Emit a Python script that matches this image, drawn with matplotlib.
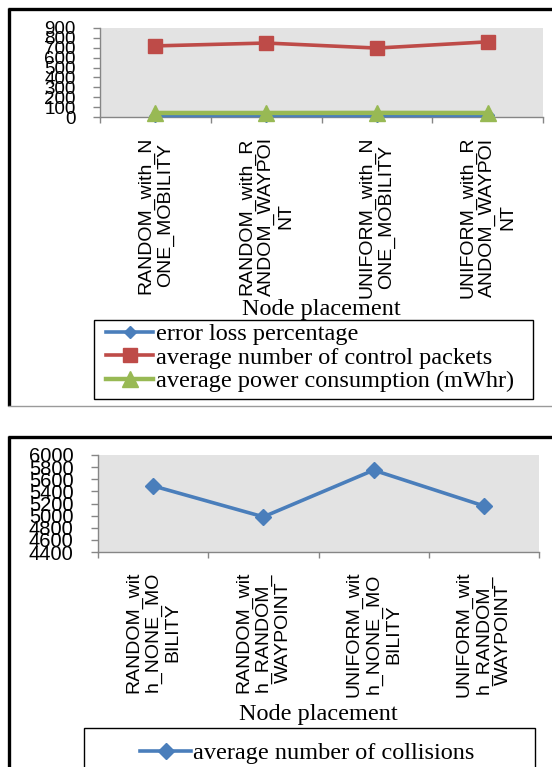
import matplotlib
matplotlib.use("Agg")
import matplotlib.pyplot as plt
from matplotlib.lines import Line2D
from matplotlib.patches import Rectangle

# Node placement scenarios (wrapped the way the category axis breaks them)
placements_top = [
    "RANDOM_with_N\nONE_MOBILITY",
    "RANDOM_with_R\nANDOM_WAYPOI\nNT",
    "UNIFORM_with_N\nONE_MOBILITY",
    "UNIFORM_with_R\nANDOM_WAYPOI\nNT",
]
placements_bottom = [
    "RANDOM_wit\nh_NONE_MO\nBILITY",
    "RANDOM_wit\nh_RANDOM_\nWAYPOINT",
    "UNIFORM_wit\nh_NONE_MO\nBILITY",
    "UNIFORM_wit\nh_RANDOM_\nWAYPOINT",
]

# Series values
error_loss = [14, 15, 14, 16]
control_packets = [719, 748, 697, 760]
power_consumption = [41, 41, 42, 41]
collisions = [5490, 4980, 5750, 5160]

yticks_top = list(range(0, 901, 100))
yticks_bottom = list(range(4400, 6001, 200))

BLUE = "#4A7EBB"
RED = "#BE4B48"
GREEN = "#98B954"
AXIS_GRAY = "#868686"
PLOT_BG = "#E3E3E3"
SERIF = {"family": "Liberation Serif", "size": 17.5}

W, H = 552, 767
fig = plt.figure(figsize=(W / 100, H / 100), dpi=100)


def fx(px):
    return px / W


def fy(py):
    return 1 - py / H


def add_axes_px(left, top, right, bottom):
    return fig.add_axes([fx(left), fy(bottom), (right - left) / W, (bottom - top) / H])


def style_axes(ax, labels, yticks, label_y, ytick_size):
    ax.set_facecolor(PLOT_BG)
    for side in ("top", "right"):
        ax.spines[side].set_visible(False)
    for side in ("left", "bottom"):
        ax.spines[side].set_color(AXIS_GRAY)
        ax.spines[side].set_linewidth(1.0)
    n = len(labels)
    ax.set_xlim(0, n)
    ax.set_xticks([i + 0.5 for i in range(n)])
    ax.set_xticklabels(labels, rotation=90, ha="center", va="top",
                       multialignment="center",
                       fontfamily="Liberation Sans", fontsize=14)
    ax.set_xticks(range(n + 1), minor=True)
    ax.tick_params(axis="x", which="major", length=0, pad=14)
    ax.tick_params(axis="x", which="minor", length=4, color=AXIS_GRAY, width=1.0,
                   direction="out")
    ax.set_ylim(yticks[0], yticks[-1])
    ax.set_yticks(yticks)
    ax.set_yticklabels([str(v) for v in yticks], fontfamily="Liberation Sans",
                       fontsize=ytick_size)
    ax.tick_params(axis="y", length=5, color=AXIS_GRAY, width=1.0, pad=12.5)
    ax.set_xlabel("Node placement", fontdict=SERIF, va="center")
    ax.xaxis.set_label_coords(0.5, label_y)


def box_px(left, top, right, bottom):
    fig.add_artist(Rectangle((fx(left), fy(bottom)), (right - left) / W,
                             (bottom - top) / H, transform=fig.transFigure,
                             fill=False, edgecolor="black", lw=1.0))


# Panel frames
frame_kw = dict(transform=fig.transFigure, solid_capstyle="butt")
fig.add_artist(Line2D([fx(8), 1], [fy(9), fy(9)], color="black", lw=2.4, **frame_kw))
fig.add_artist(Line2D([fx(8.5), fx(8.5)], [fy(8), fy(406)], color="black", lw=2.4, **frame_kw))
fig.add_artist(Line2D([fx(8), 1], [fy(406), fy(406)], color="#9A9A9A", lw=1.0, **frame_kw))
fig.add_artist(Line2D([fx(8), 1], [fy(437), fy(437)], color="black", lw=2.4, **frame_kw))
fig.add_artist(Line2D([fx(8.5), fx(8.5)], [fy(436), 0], color="black", lw=2.4, **frame_kw))

# Upper chart: error loss, control packets, power consumption
ax1 = add_axes_px(100, 28, 543, 117)
x_top = [i + 0.5 for i in range(len(placements_top))]
h_err, = ax1.plot(x_top, error_loss, color=BLUE, lw=2.6, marker="D", ms=6,
                  label="error loss percentage", zorder=3, clip_on=False)
h_ctl, = ax1.plot(x_top, control_packets, color=RED, lw=2.6, marker="s", ms=9.5,
                  label="average number of control packets", zorder=5, clip_on=False)
h_pwr, = ax1.plot(x_top, power_consumption, color=GREEN, lw=3.2, marker="^", ms=12,
                  label="average power consumption (mWhr)", zorder=4, clip_on=False)
style_axes(ax1, placements_top, yticks_top, (117 - 309) / 89, 13.5)

box_px(94, 320, 533, 399)
fig.legend(handles=[h_err, h_ctl, h_pwr], loc="upper left",
           bbox_to_anchor=(fx(106), fy(323)), bbox_transform=fig.transFigure,
           frameon=False, prop=SERIF, handlelength=1.95, labelspacing=0.07,
           borderpad=0, handletextpad=0.1, borderaxespad=0)

# Lower chart: collisions
ax2 = add_axes_px(98, 455, 539, 552)
x_bot = [i + 0.5 for i in range(len(placements_bottom))]
h_col, = ax2.plot(x_bot, collisions, color=BLUE, lw=2.6, marker="D", ms=8.5,
                  label="average number of collisions", zorder=3, clip_on=False)
style_axes(ax2, placements_bottom, yticks_bottom, (552 - 714) / 97, 14.5)

box_px(84, 728, 535, 790)
fig.legend(handles=[h_col], loc="center left", bbox_to_anchor=(fx(140), fy(753)),
           bbox_transform=fig.transFigure, frameon=False, prop=SERIF,
           handlelength=2.1, handletextpad=0.1, borderpad=0, borderaxespad=0)

fig.savefig("out.png", dpi=100, facecolor="white")
